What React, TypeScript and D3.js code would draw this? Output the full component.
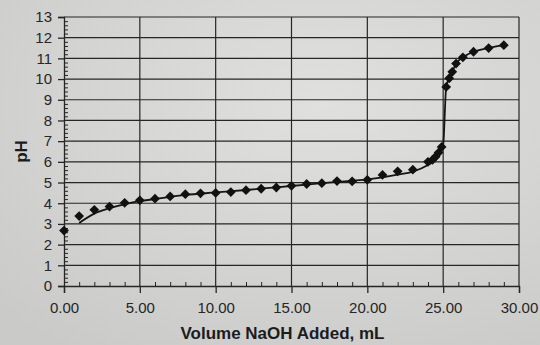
import { useRef, useEffect } from "react";
import * as d3 from "d3";

// measured titration points
const volumes = [0, 1, 2, 3, 4, 5, 6, 7, 8, 9, 10, 11, 12, 13, 14, 15, 16, 17, 18, 19, 20, 21, 22, 23, 24, 24.3, 24.5, 24.7, 24.9, 25.2, 25.4, 25.6, 25.85, 26.3, 27, 28, 29];
const phValues = [2.68, 3.38, 3.68, 3.84, 4.02, 4.14, 4.22, 4.33, 4.44, 4.48, 4.5, 4.54, 4.63, 4.7, 4.76, 4.84, 4.93, 4.97, 5.07, 5.06, 5.13, 5.37, 5.54, 5.62, 6.0, 6.1, 6.25, 6.45, 6.72, 9.62, 10.04, 10.35, 10.75, 11.05, 11.32, 11.5, 11.64];

// smooth fitted curve
const curveVol = [1, 2, 3, 4, 5, 6, 8, 10, 12, 14, 16, 18, 20, 21, 22, 23, 24, 24.5, 24.8, 25.0, 25.2, 25.4, 25.6, 25.85, 26.3, 27, 28, 29];
const curvePH = [3.05, 3.5, 3.76, 3.95, 4.1, 4.2, 4.4, 4.52, 4.64, 4.77, 4.9, 5.03, 5.15, 5.25, 5.38, 5.53, 5.85, 6.1, 6.4, 6.8, 9.62, 10.04, 10.35, 10.75, 11.05, 11.32, 11.5, 11.64];

const xTicks = [0, 5, 10, 15, 20, 25, 30];
const yTicks = [0, 1, 2, 3, 4, 5, 6, 7, 8, 9, 10, 11, 12, 13];

const INK = "#262626";
const FONT = "Liberation Sans, Arial, sans-serif";

export default function App() {
  const svgRef = useRef<SVGSVGElement>(null);

  useEffect(() => {
    if (!svgRef.current) return;
    const svg = d3.select(svgRef.current);
    svg.selectAll("*").remove();

    const width = 540;
    const height = 345;
    const margin = { top: 17, right: 21, bottom: 59, left: 64 };
    const w = width - margin.left - margin.right;
    const h = height - margin.top - margin.bottom;

    // paper background
    const defs = svg.append("defs");
    const grad = defs.append("radialGradient").attr("id", "paper").attr("cx", "60%").attr("cy", "30%").attr("r", "85%");
    grad.append("stop").attr("offset", "0%").attr("stop-color", "#e0e0de");
    grad.append("stop").attr("offset", "100%").attr("stop-color", "#cacac8");
    svg.append("rect").attr("width", width).attr("height", height).attr("fill", "url(#paper)");

    const g = svg.append("g").attr("transform", `translate(${margin.left},${margin.top})`);

    const x = d3.scaleLinear().domain([0, 30]).range([0, w]);
    const y = d3.scaleLinear().domain([0, 13]).range([h, 0]);

    // gridlines
    g.selectAll(".hgrid")
      .data(yTicks.filter((d) => d > 0))
      .enter()
      .append("line")
      .attr("x1", 0)
      .attr("x2", w)
      .attr("y1", (d) => y(d))
      .attr("y2", (d) => y(d))
      .attr("stroke", INK)
      .attr("stroke-width", 1.2);

    g.selectAll(".vgrid")
      .data(xTicks.filter((d) => d > 0))
      .enter()
      .append("line")
      .attr("x1", (d) => x(d))
      .attr("x2", (d) => x(d))
      .attr("y1", 0)
      .attr("y2", h)
      .attr("stroke", INK)
      .attr("stroke-width", 1.2);

    // x axis: major ticks down, minor ticks up
    const xAxis = g.append("g").attr("transform", `translate(0,${h})`);
    xAxis.call(
      d3.axisBottom(x).tickValues(xTicks).tickSize(7).tickPadding(9).tickFormat((d) => (d as number).toFixed(2))
    );
    xAxis.selectAll("text").attr("fill", INK).attr("font-size", 15).attr("font-family", FONT);
    xAxis.selectAll("line, .domain").attr("stroke", INK).attr("stroke-width", 1.3);
    g.append("g")
      .attr("transform", `translate(0,${h})`)
      .call(d3.axisTop(x).tickValues(d3.range(1, 30).filter((d) => d % 5 !== 0)).tickSize(4).tickFormat(() => ""))
      .call((s) => s.select(".domain").remove())
      .selectAll("line")
      .attr("stroke", INK);

    // y axis: major ticks left, minor ticks right
    const yAxis = g.append("g");
    yAxis.call(d3.axisLeft(y).tickValues(yTicks).tickSize(6).tickPadding(6));
    yAxis.selectAll("text").attr("fill", INK).attr("font-size", 15).attr("font-family", FONT);
    yAxis.selectAll("line, .domain").attr("stroke", INK).attr("stroke-width", 1.3);
    g.append("g")
      .call(d3.axisRight(y).tickValues(d3.range(0, 13, 0.2).filter((d) => Math.abs(d - Math.round(d)) > 0.01)).tickSize(4).tickFormat(() => ""))
      .call((s) => s.select(".domain").remove())
      .selectAll("line")
      .attr("stroke", INK);

    // fitted curve
    const curveData = curveVol.map((v, i) => [v, curvePH[i]] as [number, number]);
    g.append("path")
      .datum(curveData)
      .attr("d", d3.line<[number, number]>().x((d) => x(d[0])).y((d) => y(d[1])).curve(d3.curveMonotoneX))
      .attr("fill", "none")
      .attr("stroke", "#151515")
      .attr("stroke-width", 1.8);

    // markers
    const points = volumes.map((v, i) => ({ v, ph: phValues[i] }));
    g.selectAll(".pt")
      .data(points)
      .enter()
      .append("path")
      .attr("d", d3.symbol().type(d3.symbolSquare).size(48)())
      .attr("transform", (d) => `translate(${x(d.v)},${y(d.ph)}) rotate(45)`)
      .attr("fill", "#111");

    // axis titles
    svg.append("text")
      .attr("x", margin.left + w / 2 - 9)
      .attr("y", 339)
      .attr("text-anchor", "middle")
      .attr("font-family", FONT)
      .attr("font-weight", "bold")
      .attr("font-size", 17)
      .attr("fill", "#1c1c1c")
      .text("Volume NaOH Added, mL");

    svg.append("text")
      .attr("transform", `translate(27,${margin.top + h / 2}) rotate(-90)`)
      .attr("text-anchor", "middle")
      .attr("font-family", FONT)
      .attr("font-weight", "bold")
      .attr("font-size", 17)
      .attr("fill", "#1c1c1c")
      .text("pH");
  }, []);

  return (
    <div style={{ position: "absolute", left: 0, top: 0 }}>
      <svg ref={svgRef} width={540} height={345} style={{ display: "block" }} />
    </div>
  );
}
